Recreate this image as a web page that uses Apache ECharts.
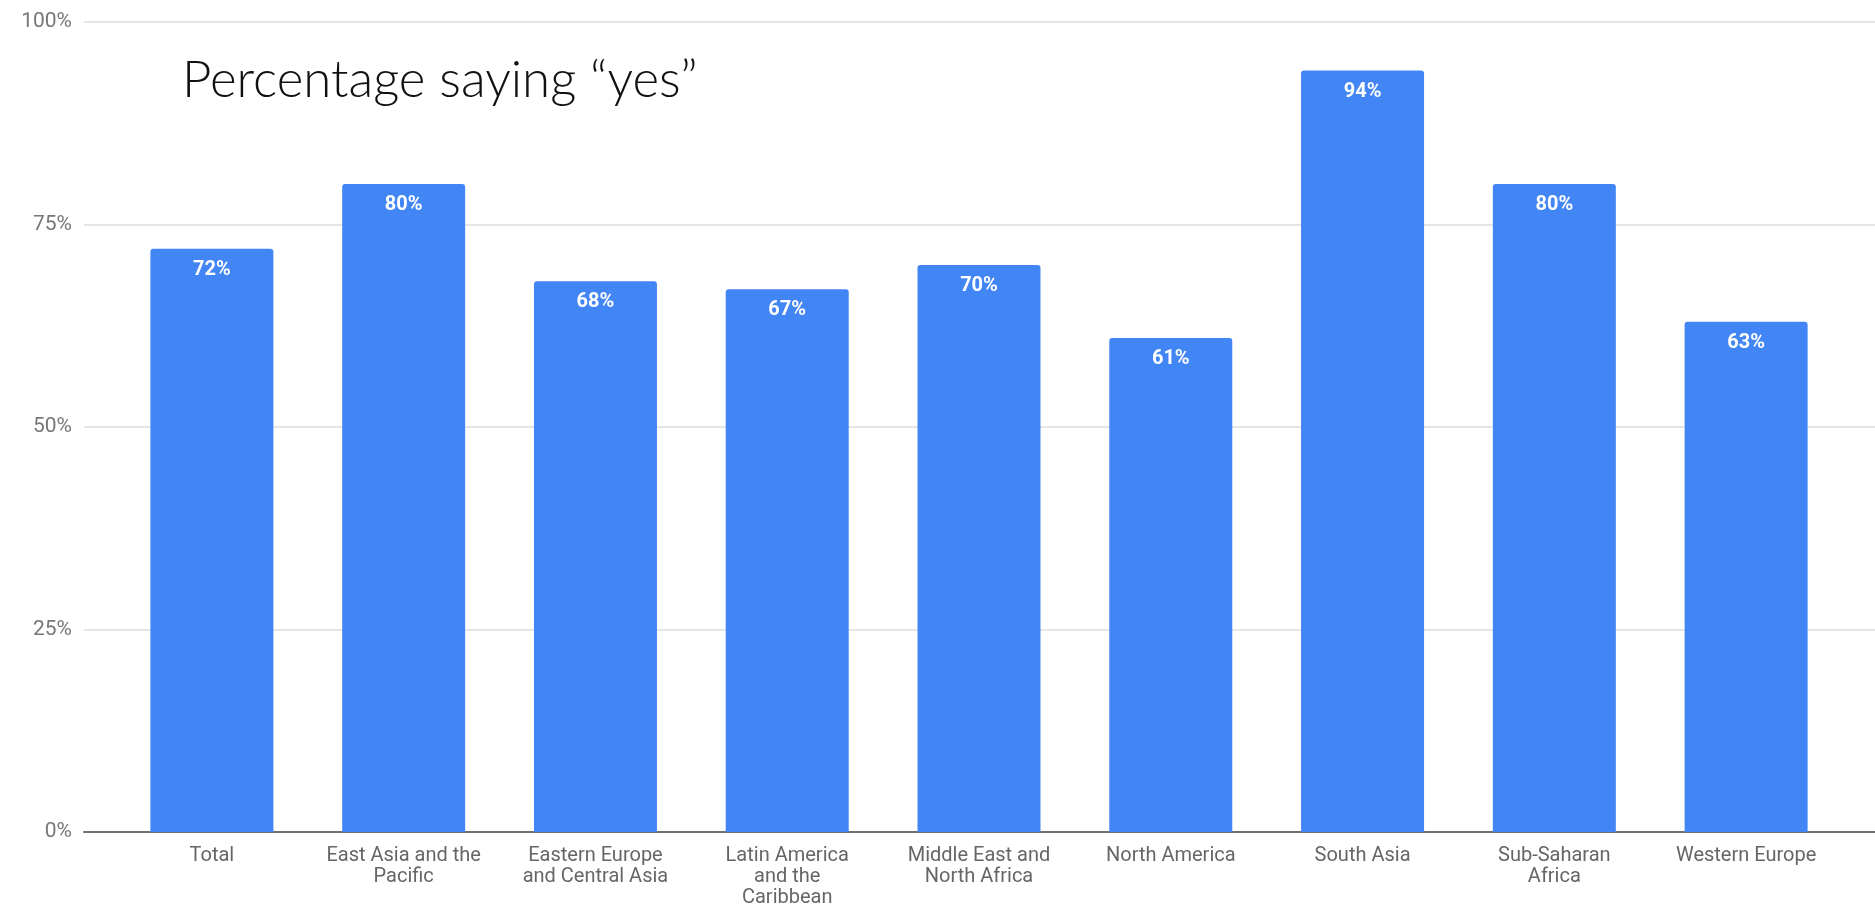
<!DOCTYPE html>
<html>
<head>
<meta charset="utf-8">
<script src="https://cdn.jsdelivr.net/npm/echarts@6/dist/echarts.min.js"></script>
<style>
  html, body { margin: 0; padding: 0; background: #fff; }
  #chart { width: 1875px; height: 908px; }
</style>
</head>
<body>
<div id="chart"></div>
<script>
// Regions (tick labels carry their own line breaks)
const regions = [
  'Total',
  'East Asia and the\nPacific',
  'Eastern Europe\nand Central Asia',
  'Latin America\nand the\nCaribbean',
  'Middle East and\nNorth Africa',
  'North America',
  'South Asia',
  'Sub-Saharan\nAfrica',
  'Western Europe'
];

// Share of respondents answering "yes", in percent
const yesShare = [72, 80, 68, 67, 70, 61, 94, 80, 63];

// Value-axis ticks
const yTicks = [0, 25, 50, 75, 100];

const chartTitle = 'Percentage saying \u201cyes\u201d';

const BLUE = '#4285F4';

const chart = echarts.init(document.getElementById('chart'), null, { renderer: 'canvas' });

chart.setOption({
  animation: false,
  backgroundColor: '#ffffff',
  title: {
    text: chartTitle,
    left: 177,
    top: 50,
    textStyle: {
      fontFamily: 'Lato',
      fontWeight: 300,
      fontSize: 51,
      color: '#111111'
    }
  },
  grid: [
    // full-width grid carrying the gridlines and baseline
    { left: 84, right: 0, top: 22, bottom: 76, containLabel: false, outerBoundsMode: 'none' },
    // inset grid holding the bars
    { left: 116, right: 33, top: 22, bottom: 76, containLabel: false, outerBoundsMode: 'none' }
  ],
  xAxis: [
    {
      gridIndex: 0,
      type: 'value',
      min: 0,
      max: 1,
      axisLine: { show: true, onZero: false, lineStyle: { color: '#6f6f6f', width: 2 } },
      axisTick: { show: false },
      axisLabel: { show: false },
      splitLine: { show: false }
    },
    {
      gridIndex: 1,
      type: 'category',
      data: regions,
      axisLine: { show: false },
      axisTick: { show: false },
      axisLabel: {
        interval: 0,
        margin: 13,
        color: '#666666',
        fontFamily: 'Roboto',
        fontSize: 20,
        lineHeight: 21
      }
    }
  ],
  yAxis: [
    {
      gridIndex: 0,
      type: 'value',
      min: yTicks[0],
      max: yTicks[yTicks.length - 1],
      interval: 25,
      axisLine: { show: false },
      axisTick: { show: false },
      axisLabel: {
        margin: 12,
        color: '#777777',
        fontFamily: 'Roboto',
        fontSize: 21,
        formatter: v => v + '%'
      },
      splitLine: { show: true, lineStyle: { color: '#dddddd', width: 1.5 } }
    },
    {
      gridIndex: 1,
      type: 'value',
      min: yTicks[0],
      max: yTicks[yTicks.length - 1],
      interval: 25,
      show: false,
      splitLine: { show: false }
    }
  ],
  series: [
    {
      type: 'bar',
      xAxisIndex: 1,
      yAxisIndex: 1,
      data: yesShare,
      barWidth: 123,
      z: 1,
      itemStyle: { color: BLUE, borderRadius: [3, 3, 0, 0] },
      label: {
        show: true,
        position: 'insideTop',
        distance: 11,
        color: '#ffffff',
        fontFamily: 'Roboto',
        fontWeight: 'bold',
        fontSize: 20,
        formatter: p => p.value + '%'
      }
    }
  ]
});
</script>
</body>
</html>
